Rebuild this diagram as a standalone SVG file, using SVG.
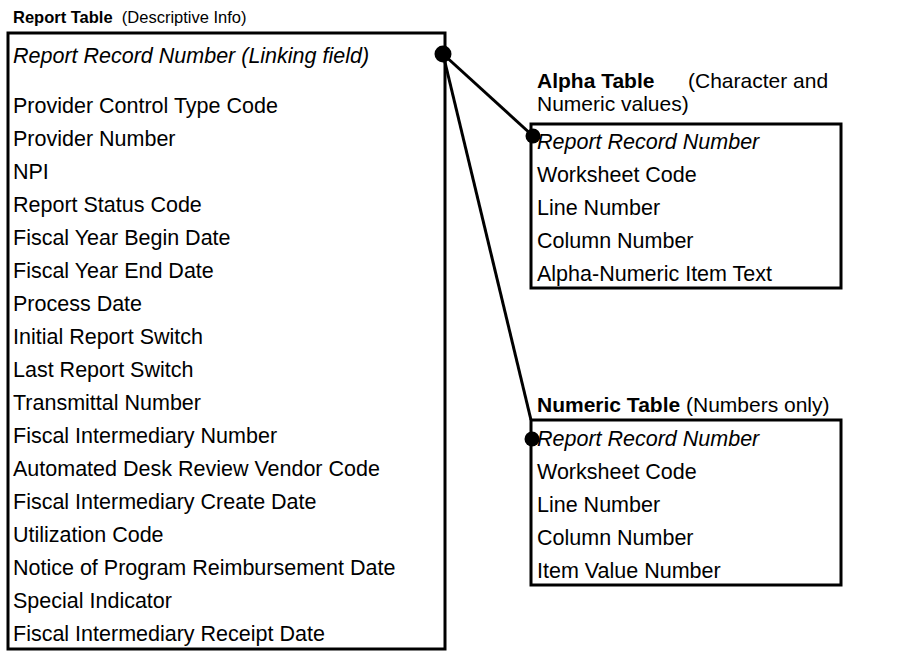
<svg xmlns="http://www.w3.org/2000/svg" width="917" height="652" viewBox="0 0 917 652">
<style>
text { font-family: "Liberation Sans", Arial, sans-serif; font-size: 21.5px; fill: #000; }
.title { font-size: 21px; }
.rtitle { font-size: 16.5px; }
.b { font-weight: bold; }
.i { font-style: italic; }
.box { fill: #fff; stroke: #000; stroke-width: 3; }
.conn { stroke: #000; stroke-width: 3; fill: none; }
.dot { fill: #000; }
</style>
<rect width="917" height="652" fill="#fff"/>
<g id="report-table">
  <text class="rtitle" x="13" y="23" xml:space="preserve"><tspan class="b">Report Table</tspan>  (Descriptive Info)</text>
  <rect class="box" x="8" y="33" width="437" height="616"/>
  <text class="i" x="13" y="63">Report Record Number (Linking field)</text>
  <text x="13" y="113">Provider Control Type Code</text>
  <text x="13" y="146">Provider Number</text>
  <text x="13" y="179">NPI</text>
  <text x="13" y="212">Report Status Code</text>
  <text x="13" y="245">Fiscal Year Begin Date</text>
  <text x="13" y="278">Fiscal Year End Date</text>
  <text x="13" y="311">Process Date</text>
  <text x="13" y="344">Initial Report Switch</text>
  <text x="13" y="377">Last Report Switch</text>
  <text x="13" y="410">Transmittal Number</text>
  <text x="13" y="443">Fiscal Intermediary Number</text>
  <text x="13" y="476">Automated Desk Review Vendor Code</text>
  <text x="13" y="509">Fiscal Intermediary Create Date</text>
  <text x="13" y="542">Utilization Code</text>
  <text x="13" y="575">Notice of Program Reimbursement Date</text>
  <text x="13" y="608">Special Indicator</text>
  <text x="13" y="641">Fiscal Intermediary Receipt Date</text>
</g>
<g id="alpha-table">
  <text class="title b" x="537" y="88">Alpha Table</text>
  <text class="title" x="688" y="88">(Character and</text>
  <text class="title" x="537" y="111">Numeric values)</text>
  <rect class="box" x="531" y="124" width="310" height="164"/>
  <text class="i" x="537" y="149">Report Record Number</text>
  <text x="537" y="182">Worksheet Code</text>
  <text x="537" y="215">Line Number</text>
  <text x="537" y="248">Column Number</text>
  <text x="537" y="281">Alpha-Numeric Item Text</text>
</g>
<g id="numeric-table">
  <text class="title" x="537" y="412"><tspan class="b">Numeric Table</tspan> (Numbers only)</text>
  <rect class="box" x="531" y="420" width="310" height="165"/>
  <text class="i" x="537" y="446">Report Record Number</text>
  <text x="537" y="479">Worksheet Code</text>
  <text x="537" y="512">Line Number</text>
  <text x="537" y="545">Column Number</text>
  <text x="537" y="578">Item Value Number</text>
</g>
<g id="connectors">
  <line class="conn" x1="443" y1="54" x2="533" y2="136"/>
  <line class="conn" x1="443" y1="54" x2="531" y2="420"/>
  <circle class="dot" cx="443" cy="54" r="8.5"/>
  <circle class="dot" cx="533" cy="136" r="7.5"/>
  <circle class="dot" cx="532" cy="439" r="7.5"/>
</g>
</svg>
